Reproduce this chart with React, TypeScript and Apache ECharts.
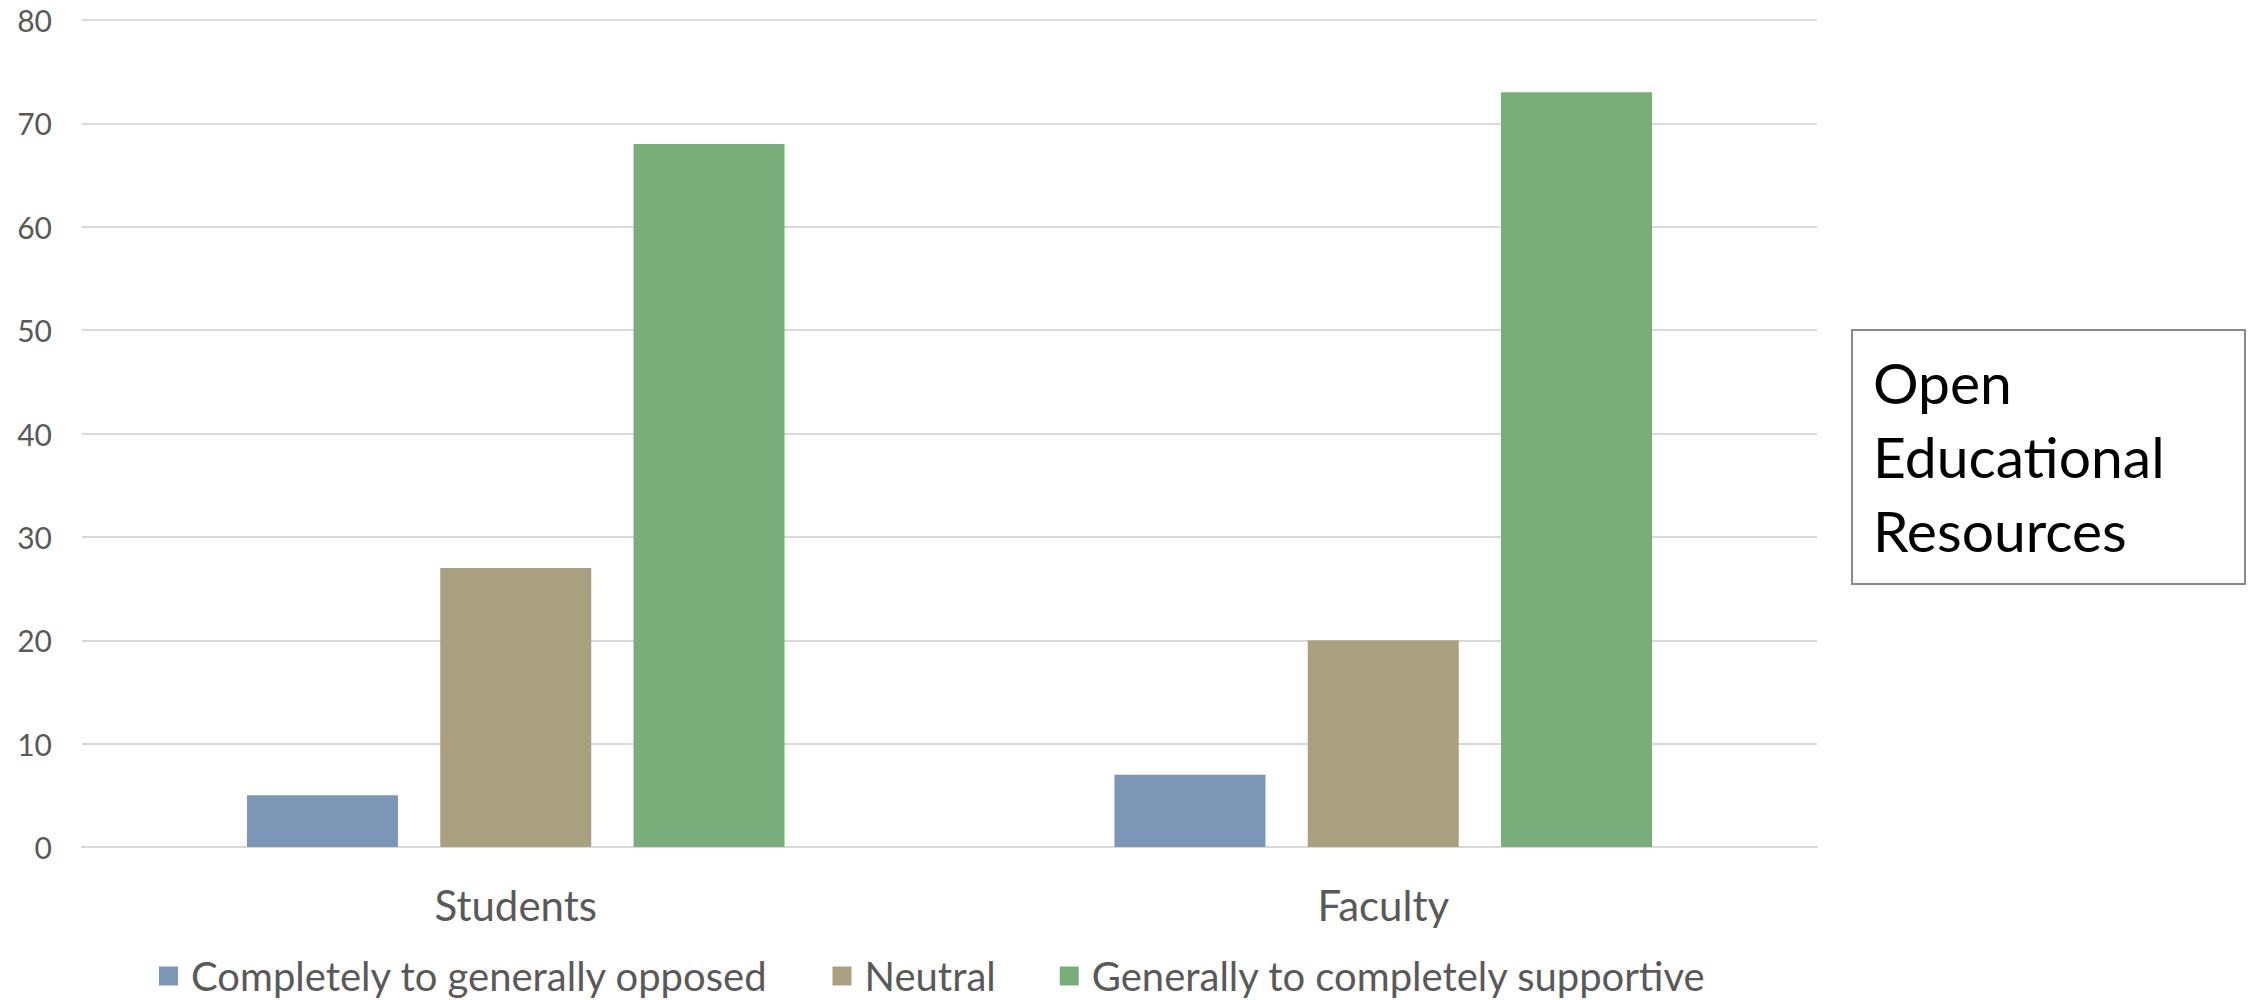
import React, { useEffect, useRef } from "react";
import * as echarts from "echarts";

// Survey groups and attitude counts
const categories = ["Students", "Faculty"];
const seriesNames = [
  "Completely to generally opposed",
  "Neutral",
  "Generally to completely supportive",
];
const opposed = [5, 7];
const neutral = [27, 20];
const supportive = [68, 73];
const seriesValues = [opposed, neutral, supportive];
const seriesColors = ["#7C96B6", "#A8A07E", "#79AD7A"];
const yTicks = { min: 0, max: 80, interval: 10 };
const boxLines = ["Open", "Educational", "Resources"];

const FONT = "Lato, 'Open Sans', sans-serif";

export default function App() {
  const ref = useRef<HTMLDivElement>(null);

  useEffect(() => {
    document.body.style.margin = "0";
    if (!ref.current) return;
    const chart = echarts.init(ref.current, undefined, { renderer: "svg" });

    chart.setOption({
      animation: false,
      backgroundColor: "#ffffff",
      textStyle: { fontFamily: FONT },
      grid: { left: 82, right: 435, top: 20, bottom: 153, containLabel: false },
      legend: {
        left: 154,
        top: 951,
        itemWidth: 19,
        itemHeight: 19,
        itemGap: 64,
        icon: "rect",
        data: seriesNames,
        textStyle: {
          fontFamily: FONT,
          fontSize: 40,
          color: "#595959",
          padding: [0, 0, 0, 8],
        },
      },
      xAxis: {
        type: "category",
        data: categories,
        axisTick: { show: false },
        axisLine: { show: true, lineStyle: { color: "#d9d9d9", width: 2 } },
        axisLabel: {
          fontFamily: FONT,
          fontSize: 42,
          color: "#595959",
          margin: 37,
        },
      },
      yAxis: {
        type: "value",
        min: yTicks.min,
        max: yTicks.max,
        interval: yTicks.interval,
        axisLine: { show: false },
        axisTick: { show: false },
        splitLine: { lineStyle: { color: "#d9d9d9", width: 2 } },
        axisLabel: {
          fontFamily: FONT,
          fontSize: 30,
          color: "#595959",
          margin: 30,
        },
      },
      series: seriesNames.map((name, i) => ({
        name,
        type: "bar",
        data: seriesValues[i],
        barWidth: 151,
        barGap: "28%",
        itemStyle: { color: seriesColors[i] },
      })),
      graphic: [
        {
          type: "group",
          left: 1851,
          top: 329,
          children: [
            {
              type: "rect",
              shape: { x: 0, y: 0, width: 393, height: 254 },
              style: { fill: "#ffffff", stroke: "#8a8a8a", lineWidth: 2 },
            },
            {
              type: "text",
              x: 21,
              y: 15,
              style: {
                text: boxLines.join("\n"),
                fontFamily: FONT,
                fontSize: 57,
                lineHeight: 74,
                fill: "#000000",
              },
            },
          ],
        },
      ],
    });

    return () => chart.dispose();
  }, []);

  return <div ref={ref} style={{ width: 2252, height: 1000 }} />;
}
